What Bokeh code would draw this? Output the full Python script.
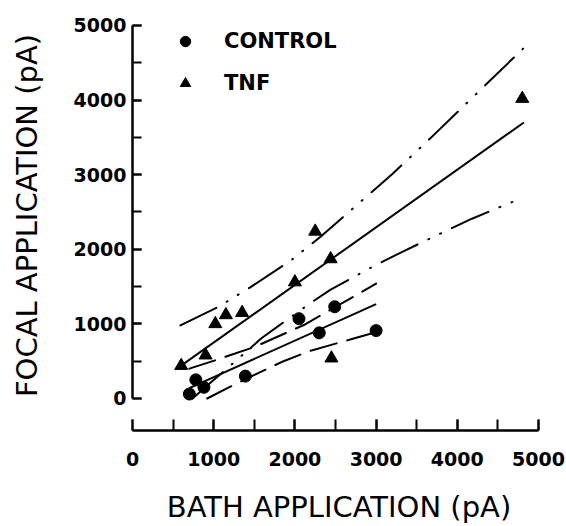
from bokeh.plotting import figure
from bokeh.models import Range1d, SingleIntervalTicker, Legend, LegendItem
from bokeh.embed import file_html
from bokeh.resources import INLINE

# ---- data ----
control_x = [700, 780, 880, 1390, 2050, 2300, 2490, 3000]
control_y = [60, 250, 150, 300, 1070, 880, 1230, 910]
tnf_x = [600, 900, 1020, 1150, 1350, 2000, 2250, 2440, 2450, 4800]
tnf_y = [440, 580, 1000, 1120, 1150, 1560, 2240, 1870, 540, 4020]

ctrl_fit_x = [700, 3000]
ctrl_fit_y = [140, 1265]
ctrl_upper_x = [700, 1040, 1500, 2110, 2490, 3000]
ctrl_upper_y = [400, 520, 690, 985, 1220, 1540]
ctrl_lower_x = [920, 1270, 1450, 1860, 2190, 2680, 3000]
ctrl_lower_y = [0, 195, 290, 500, 640, 790, 890]

tnf_fit_x = [560, 4820]
tnf_fit_y = [410, 3700]
tnf_upper_x = [590, 1060, 1450, 1950, 2340, 3200, 3670, 4810]
tnf_upper_y = [980, 1230, 1490, 1850, 2190, 3010, 3490, 4690]
tnf_lower_x = [740, 920, 1210, 1580, 1820, 2180, 2440, 2910, 3310, 3790, 4180, 4800]
tnf_lower_y = [0, 175, 445, 800, 990, 1270, 1460, 1740, 1960, 2210, 2410, 2690]

series_labels = ["CONTROL", "TNF"]
x_title = "BATH APPLICATION (pA)"
y_title = "FOCAL APPLICATION (pA)"

p = figure(width=566, height=526, output_backend="svg", toolbar_location=None,
           x_range=Range1d(0, 5086), y_range=Range1d(-429, 5335),
           min_border_left=132, min_border_right=21, min_border_top=0,
           min_border_bottom=96)
p.outline_line_color = None
p.xgrid.grid_line_color = None
p.ygrid.grid_line_color = None
p.background_fill_color = "white"
p.border_fill_color = "white"

for ax, tin in ((p.xaxis[0], 11), (p.yaxis[0], 9)):
    ax.ticker = SingleIntervalTicker(interval=1000, num_minor_ticks=2)
    ax.bounds = (0, 5000)
    ax.axis_line_width = 2.5
    ax.axis_line_color = "black"
    ax.major_tick_in = tin
    ax.major_tick_out = 0
    ax.minor_tick_in = tin
    ax.minor_tick_out = 0
    ax.major_tick_line_width = 2
    ax.minor_tick_line_width = 2
    ax.major_tick_line_color = "black"
    ax.minor_tick_line_color = "black"
    ax.major_label_text_font = "DejaVu Sans"
    ax.major_label_text_font_style = "bold"
    ax.major_label_text_font_size = "19px"
    ax.major_label_text_color = "black"
    ax.axis_label_text_font = "DejaVu Sans"
    ax.axis_label_text_font_style = "normal"
    ax.axis_label_text_font_size = "29px"
    ax.axis_label_text_color = "black"

p.xaxis[0].major_label_standoff = 21
p.yaxis[0].major_label_standoff = 6
p.xaxis[0].axis_label = x_title
p.xaxis[0].axis_label_standoff = 21
p.yaxis[0].axis_label = y_title
p.yaxis[0].axis_label_standoff = 27

# regression lines and bands
p.line(ctrl_fit_x, ctrl_fit_y, line_color="black", line_width=2)
p.line(ctrl_upper_x, ctrl_upper_y, line_color="black", line_width=2,
       line_dash="27 11", line_cap="round")
p.line(ctrl_lower_x, ctrl_lower_y, line_color="black", line_width=2,
       line_dash="27 11", line_cap="round")
p.line(tnf_fit_x, tnf_fit_y, line_color="black", line_width=2)
p.line(tnf_upper_x, tnf_upper_y, line_color="black", line_width=2,
       line_dash="40 12 1 12 1 12", line_cap="round")
p.line(tnf_lower_x, tnf_lower_y, line_color="black", line_width=2,
       line_dash="40 12 1 12 1 12", line_cap="round")

r1 = p.scatter(control_x, control_y, marker="circle", size=12,
               fill_color="black", line_color="black")
r2 = p.scatter(tnf_x, tnf_y, marker="triangle", size=13,
               fill_color="black", line_color="black")

legend = Legend(items=[LegendItem(label=series_labels[0], renderers=[r1]),
                       LegendItem(label=series_labels[1], renderers=[r2])],
                location=(40, 334), orientation="vertical", padding=0, margin=0,
                spacing=16, glyph_width=26, glyph_height=26, label_standoff=26,
                label_height=26, border_line_color=None, background_fill_alpha=0,
                label_text_font="DejaVu Sans", label_text_font_style="bold",
                label_text_font_size="21px", label_text_color="black")
p.add_layout(legend)

open("out.html", "w").write(file_html(p, INLINE))
